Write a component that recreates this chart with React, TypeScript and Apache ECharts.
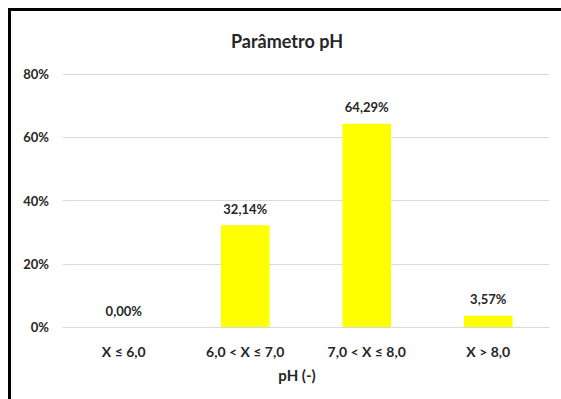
import React, { useEffect, useRef } from "react";
import * as echarts from "echarts";

// pH ranges and share of samples in each (%)
const categories: string[] = ["X ≤ 6,0", "6,0 < X ≤ 7,0", "7,0 < X ≤ 8,0", "X > 8,0"];
const shares: number[] = [0, 32.14, 64.29, 3.57];
const yTicks: number[] = [0, 20, 40, 60, 80];

const TEXT = "#262626";
const FONT = "Lato, 'Noto Sans', sans-serif";

const fmtPct = (v: number) => v.toFixed(2).replace(".", ",") + "%";

export default function App() {
  const ref = useRef<HTMLDivElement>(null);

  useEffect(() => {
    if (!ref.current) return;
    const chart = echarts.init(ref.current, undefined, { renderer: "svg" });
    chart.setOption({
      animation: false,
      backgroundColor: "#ffffff",
      textStyle: { fontFamily: FONT },
      title: {
        text: "Parâmetro pH",
        left: 282,
        top: 27,
        textAlign: "center",
        textStyle: { fontFamily: FONT, fontSize: 18, fontWeight: "bold", color: TEXT },
      },
      grid: { left: 63, right: 12, top: 74, bottom: 72, containLabel: false },
      xAxis: {
        type: "category",
        data: categories,
        name: "pH (-)",
        nameLocation: "middle",
        nameGap: 40,
        nameTextStyle: {
          fontFamily: FONT,
          fontSize: 15,
          fontWeight: "bold",
          color: TEXT,
          padding: [0, 18, 0, 0],
        },
        axisLine: { show: true, lineStyle: { color: "#d9d9d9", width: 1 } },
        axisTick: { show: false },
        axisLabel: { margin: 17, fontFamily: FONT, fontSize: 14, fontWeight: "bold", color: TEXT },
      },
      yAxis: {
        type: "value",
        min: yTicks[0],
        max: yTicks[yTicks.length - 1],
        interval: 20,
        axisLine: { show: false },
        axisTick: { show: false },
        splitLine: { lineStyle: { color: "#d9d9d9", width: 1 } },
        axisLabel: {
          margin: 14,
          fontFamily: FONT,
          fontSize: 13,
          fontWeight: "bold",
          color: TEXT,
          formatter: (v: number) => `${v}%`,
        },
      },
      series: [
        {
          type: "bar",
          data: shares,
          barWidth: "40%",
          itemStyle: { color: "#ffff00" },
          label: {
            show: true,
            position: "top",
            distance: 10,
            fontFamily: FONT,
            fontSize: 13,
            fontWeight: "bold",
            color: TEXT,
            formatter: (p: any) => fmtPct(p.value as number),
          },
        },
      ],
      graphic: [
        { type: "rect", shape: { x: 8, y: 8, width: 553, height: 3 }, style: { fill: "#000000" } },
        { type: "rect", shape: { x: 8, y: 8, width: 3, height: 391 }, style: { fill: "#000000" } },
      ],
    });
    return () => chart.dispose();
  }, []);

  return (
    <div
      ref={ref}
      style={{ position: "fixed", left: 0, top: 0, width: 561, height: 399 }}
    />
  );
}
